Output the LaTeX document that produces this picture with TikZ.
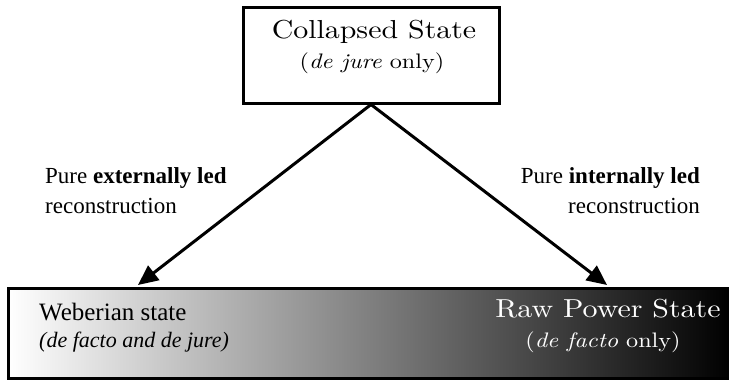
\documentclass[tikz,border=0pt]{standalone}
\usepackage{fontspec}
\setmainfont{Liberation Serif}
\newfontfamily\palfont[FakeStretch=1.15,ItalicFont=lmroman10-italic.otf]{lmroman10-regular.otf}
\usepackage{tikz}
\usetikzlibrary{arrows.meta}

\begin{document}
\begin{tikzpicture}[
    x=1pt, y=-1pt,
    statebox/.style={
        rectangle,
        draw=black,
        line width=3pt,
        minimum width=256pt,
        minimum height=96pt,
        inner sep=0pt
    },
    basebox/.style={
        rectangle,
        draw=black,
        line width=3pt,
        left color=white,
        middle color=black!27,
        right color=black,
        minimum width=723pt,
        minimum height=90pt,
        inner sep=0pt
    },
    title/.style={
        font=\palfont\fontsize{26}{30}\selectfont,
        anchor=base,
        inner sep=0pt
    },
    subtitle/.style={
        font=\palfont\fontsize{21}{26}\selectfont,
        anchor=base,
        inner sep=0pt
    },
    path/.style={
        font=\fontsize{23}{30}\selectfont,
        inner sep=0pt
    },
    arr/.style={
        line width=3pt,
        -{Triangle[length=20pt,width=18pt]}
    }
]
\useasboundingbox (0,0) rectangle (729,380);

% --- 上方方框 ---
\node[statebox] (collapsed) at (371,55) {};
\node[title] (collapsedT) at (374,38) {Collapsed State};
\node[subtitle] (collapsedS) at (372,68) {(\textit{de jure} only)};

% --- 下方漸層方框 ---
\node[basebox] (base) at (369.5,333) {};
\node[anchor=base west, inner sep=0pt, font=\fontsize{25}{30}\selectfont] (weber) at (39,320) {Weberian state};
\node[anchor=base west, inner sep=0pt, font=\fontsize{22}{26}\selectfont\itshape] (weberS) at (39,347) {(de facto and de jure)};
\node[title, text=white] (raw) at (608,317) {Raw Power State};
\node[subtitle, text=white] (rawS) at (603,347) {(\textit{de facto} only)};

% --- 箭頭終點 ---
\coordinate (weberTip) at (138,285);
\coordinate (rawTip) at (607,285);

% --- 箭頭與說明 ---
\draw[arr] (collapsed.south) -- (weberTip);
\draw[arr] (collapsed.south) -- (rawTip);
\node[path, anchor=north west, align=left] (extLab) at (45,167)
    {Pure \textbf{externally led}\\reconstruction};
\node[path, anchor=north east, align=right] (intLab) at (700,167)
    {Pure \textbf{internally led}\\reconstruction};
\end{tikzpicture}
\end{document}
